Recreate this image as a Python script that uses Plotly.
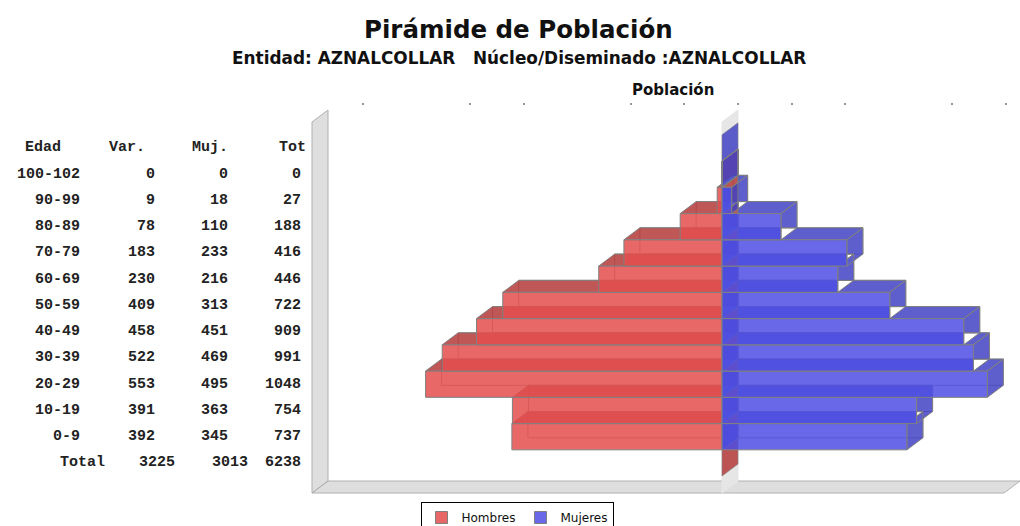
import plotly.graph_objects as go

# ---------------- data ----------------
edades = ["0-9", "10-19", "20-29", "30-39", "40-49", "50-59",
          "60-69", "70-79", "80-89", "90-99", "100-102"]
hombres = [392, 391, 553, 522, 458, 409, 230, 183, 78, 9, 0]
mujeres = [345, 363, 495, 469, 451, 313, 216, 233, 110, 18, 0]
totales = [737, 754, 1048, 991, 909, 722, 446, 416, 188, 27, 0]
cabeceras = ["Edad", "Var.", "Muj.", "Tot"]
fila_total = ["Total", 3225, 3013, 6238]
tick_vals = [-700, -500, -400, -200, -100, 0, 100, 200, 400, 500]
series_names = ["Hombres", "Mujeres"]

titulo = "Pirámide de Población"
subtitulo = "Entidad: AZNALCOLLAR   Núcleo/Diseminado :AZNALCOLLAR"
eje_titulo = "Población"

# ---------------- geometry (pixels) ----------------
W, H = 1020, 526
PL, PR, PT, PB = 308, 1020, 100, 496          # plot area
ZERO_PX = 722                                  # x=0 on front plane
PX_PER_UNIT = 0.536
ROW0_PX = 436.7                                # centre of first category (front)
ROW_PX = 26.25
DEPTH_X_PX, DEPTH_Y_PX = 16, 12
FRONT_L, FRONT_R, FRONT_T, FRONT_B = 312, 1004, 122, 493


def xu(px):
    return (px - ZERO_PX) / PX_PER_UNIT


def yu(py):
    return (ROW0_PX - py) / ROW_PX


def xp(px):  # pixel -> paper x
    return (px - PL) / (PR - PL)


def yp(py):  # pixel -> paper y
    return (PB - py) / (PB - PT)


XR = [xu(PL), xu(PR)]
YR = [yu(PB), yu(PT)]
DX = DEPTH_X_PX / PX_PER_UNIT
DY = DEPTH_Y_PX / ROW_PX

RED_FRONT = "rgba(228,77,77,0.85)"
RED_FACE = "rgba(181,58,58,0.85)"
BLUE_FRONT = "rgba(77,77,228,0.85)"
BLUE_FACE = "rgba(66,66,196,0.85)"
EDGE = "rgb(128,128,128)"


def poly_xy(polys):
    xs, ys = [], []
    for pts in polys:
        for a, b in list(pts) + [pts[0]]:
            xs.append(a)
            ys.append(b)
        xs.append(None)
        ys.append(None)
    return xs, ys


def poly_trace(polys, fill, line=EDGE, width=1):
    xs, ys = poly_xy(polys)
    return go.Scatter(x=xs, y=ys, mode="lines", fill="toself" if fill else None,
                      fillcolor=fill, line=dict(color=line, width=width),
                      hoverinfo="skip", showlegend=False)


def base_face(i):
    return [(0, i - .5), (DX, i - .5 + DY), (DX, i + .5 + DY), (0, i + .5)]


fig = go.Figure()

# ---- walls (left wall, floor, zero plane) ----
xf0, xf1 = xu(FRONT_L), xu(FRONT_R)
yft, yfb = yu(FRONT_T), yu(FRONT_B)
wall = [(xf0, yfb), (xf0, yft), (xf0 + DX, yft + DY), (xf0 + DX, yfb + DY)]
floor = [(xf0, yfb), (xf0 + DX, yfb + DY), (xf1 + DX, yfb + DY), (xf1, yfb)]
zero_plane = [(0, yfb), (0, yft), (DX, yft + DY), (DX, yfb + DY)]
fig.add_trace(poly_trace([wall, floor], "#dedede", line="#b0b0b0"))
fig.add_trace(poly_trace([zero_plane], "#e6e6e6", line="#e6e6e6"))

# zero-length base faces of the header row (top) and the total row (bottom)
n = len(edades)
fig.add_trace(poly_trace([base_face(-1)], RED_FACE, line="rgba(128,128,128,0.6)"))
fig.add_trace(poly_trace([base_face(n)], BLUE_FACE, line="rgba(128,128,128,0.6)"))

signed = [[-v for v in hombres], list(mujeres)]
faces_col = [RED_FACE, BLUE_FACE]
front_col = [RED_FRONT, BLUE_FRONT]

# ---- back outlines ----
back = []
for vals in signed:
    for i, s in enumerate(vals):
        x0, x1 = min(0, s), max(0, s)
        back.append([(x0 + DX, i - .5 + DY), (x1 + DX, i - .5 + DY),
                     (x1 + DX, i + .5 + DY), (x0 + DX, i + .5 + DY)])
fig.add_trace(poly_trace(back, None, line="rgba(128,128,128,0.8)"))

# ---- top / side faces ----
for k, vals in enumerate(signed):
    faces = []
    for i, s in enumerate(vals):
        x0, x1 = min(0, s), max(0, s)
        faces.append([(x0, i + .5), (x0 + DX, i + .5 + DY),
                      (x1 + DX, i + .5 + DY), (x1, i + .5)])
        faces.append([(x1, i - .5), (x1 + DX, i - .5 + DY),
                      (x1 + DX, i + .5 + DY), (x1, i + .5)])
        if k == 1:
            faces.append(base_face(i))
    fig.add_trace(poly_trace(faces, faces_col[k]))

# dummy trace for the tick axis
fig.add_trace(go.Scatter(x=[], y=[], xaxis="x2", yaxis="y", showlegend=False,
                         hoverinfo="skip"))

# ---- front faces (overlay subplot so they sit above the faces) ----
idx = list(range(n))
for k, vals in enumerate(signed):
    fig.add_trace(go.Bar(
        x=vals, y=idx, orientation="h", width=1, name=series_names[k],
        xaxis="x3", yaxis="y3",
        marker=dict(color=front_col[k], line=dict(color=EDGE, width=1)),
        hoverinfo="skip"))

# ---------------- texts ----------------
ann = []
ann.append(dict(text=titulo, x=xp(518), y=yp(29), xref="paper", yref="paper",
                showarrow=False, xanchor="center", yanchor="middle",
                font=dict(family="DejaVu Sans", size=24.5, color="#111", weight="bold")))
ann.append(dict(text=subtitulo, x=xp(519), y=yp(58), xref="paper", yref="paper",
                showarrow=False, xanchor="center", yanchor="middle",
                font=dict(family="DejaVu Sans", size=16.9, color="#111", weight="bold")))
ann.append(dict(text=eje_titulo, x=xp(673), y=yp(90), xref="paper", yref="paper",
                showarrow=False, xanchor="center", yanchor="middle",
                font=dict(family="DejaVu Sans", size=15, color="#111", weight="bold")))

tfont = dict(family="Liberation Mono", size=15, color="#222", weight="bold")
head_center = [43, 127, 210, 292]
col_right = [82, 157, 230, 303]
total_right = [107, 177, 250, 303]
for c, h in enumerate(cabeceras):
    ann.append(dict(text=h, x=xp(head_center[c]), y=n, xref="paper", yref="y",
                    showarrow=False, xanchor="center", yanchor="middle", font=tfont))
for i, e in enumerate(edades):
    row = [e, hombres[i], mujeres[i], totales[i]]
    for c, v in enumerate(row):
        ann.append(dict(text=str(v), x=xp(col_right[c]), y=i, xref="paper", yref="y",
                        showarrow=False, xanchor="right", yanchor="middle", font=tfont))
for c, v in enumerate(fila_total):
    ann.append(dict(text=str(v), x=xp(total_right[c]), y=-1, xref="paper", yref="y",
                    showarrow=False, xanchor="right", yanchor="middle", font=tfont))

fig.update_layout(
    width=W, height=H,
    margin=dict(l=PL, r=W - PR, t=PT, b=H - PB, autoexpand=False),
    paper_bgcolor="white", plot_bgcolor="white",
    barmode="overlay", hovermode=False,
    xaxis=dict(range=XR, visible=False, fixedrange=True),
    yaxis=dict(range=YR, visible=False, fixedrange=True),
    xaxis2=dict(overlaying="x", anchor="free", position=yp(105), side="top",
                range=[XR[0] - DX, XR[1] - DX], tickmode="array", tickvals=tick_vals,
                ticks="outside", ticklen=2, tickwidth=2, tickcolor="#999",
                showticklabels=False, showgrid=False, zeroline=False, showline=False,
                fixedrange=True),
    xaxis3=dict(overlaying="x", anchor="y3", range=XR, visible=False, fixedrange=True),
    yaxis3=dict(overlaying="y", anchor="x3", range=YR, visible=False, fixedrange=True),
    legend=dict(orientation="h", x=xp(517), y=yp(502), xanchor="center", yanchor="top",
                bordercolor="black", borderwidth=1, bgcolor="white",
                font=dict(family="DejaVu Sans", size=12, color="#111"),
                traceorder="normal"),
    annotations=ann,
)

fig.write_html("out.html", config={"displayModeBar": False},
               post_script="document.body.style.margin='0px';document.body.style.overflow='hidden';")
